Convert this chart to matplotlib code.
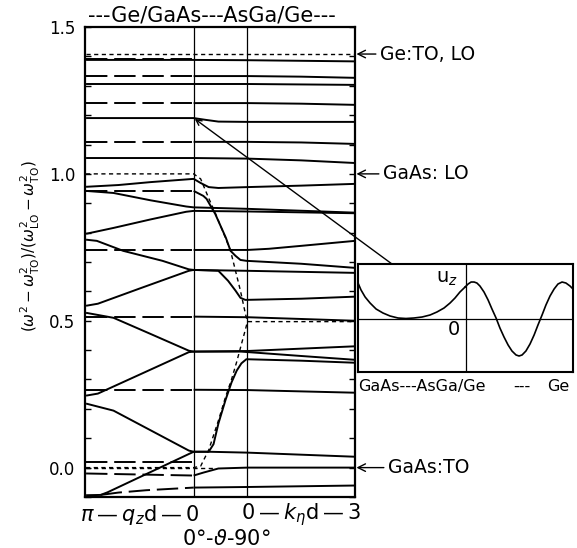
import matplotlib.pyplot as plt
from matplotlib.ticker import MultipleLocator

# stitched x axis: 0..1 is q_z d from pi to 0, 1..1.5 is theta 0..90 deg,
# 1.5..2.5 is k_eta d from 0 to 3
x_qz_end = 1.0
x_theta_end = 1.5
x_max = 2.5

# bulk reference levels (dotted)
ge_to_lo = 1.408
gaas_lo = 1.0
gaas_to = 0.0

# --- mode curves ---
m1_x = [0, 1.0, 1.5, 2.5]
m1_y = [1.388, 1.388, 1.387, 1.383]
m1d_x = [0, 1.0]
m1d_y = [1.392, 1.392]

m2d_x = [0, 1.0]
m2d_y = [1.333, 1.333]
m2_x = [1.0, 1.5, 2.0, 2.5]
m2_y = [1.333, 1.333, 1.331, 1.327]

m3_x = [0, 1.0, 1.5, 2.5]
m3_y = [1.306, 1.306, 1.306, 1.303]

m4d_x = [0, 1.0]
m4d_y = [1.241, 1.241]
m4_x = [1.0, 1.5, 2.0, 2.5]
m4_y = [1.241, 1.241, 1.239, 1.235]

m5_x = [0, 1.0, 1.11, 1.23, 1.5, 2.5]
m5_y = [1.190, 1.190, 1.184, 1.178, 1.177, 1.177]

m6d_x = [0, 1.0]
m6d_y = [1.109, 1.109]
m6_x = [1.0, 1.5, 2.0, 2.5]
m6_y = [1.109, 1.109, 1.107, 1.102]

m7_x = [0, 1.0, 1.5, 2.0, 2.5]
m7_y = [1.054, 1.054, 1.052, 1.046, 1.037]

m8_x = [0, 0.3, 0.6, 1.0, 1.065, 1.14, 1.23, 1.5, 2.0, 2.5]
m8_y = [0.956, 0.962, 0.972, 0.983, 0.969, 0.955, 0.952, 0.955, 0.960, 0.966]

m9d_x = [0, 1.0]
m9d_y = [0.942, 0.942]
m9_x = [1.0, 1.09, 1.12, 1.2, 1.3, 1.343, 1.389, 1.435, 1.49, 2.0, 2.5]
m9_y = [0.942, 0.925, 0.915, 0.864, 0.782, 0.738, 0.721, 0.707, 0.704, 0.694, 0.680]

m10_x = [0, 0.255, 0.6, 0.93, 1.0, 1.5, 2.5]
m10_y = [0.942, 0.935, 0.91, 0.889, 0.886, 0.881, 0.868]

m11_x = [0, 0.255, 0.6, 0.93, 1.0, 1.5, 2.5]
m11_y = [0.796, 0.816, 0.845, 0.871, 0.874, 0.872, 0.866]

m12d_x = [0, 1.0]
m12d_y = [0.741, 0.741]
m12_x = [1.0, 1.5, 1.7, 2.0, 2.5]
m12_y = [0.741, 0.741, 0.745, 0.755, 0.772]

m13_x = [0, 0.1, 0.345, 0.71, 0.955, 1.0, 1.5, 2.5]
m13_y = [0.776, 0.772, 0.738, 0.704, 0.675, 0.673, 0.670, 0.663]

m14_x = [0, 0.11, 0.5, 0.955, 1.0, 1.23, 1.32, 1.39, 1.435, 1.48, 2.0, 2.5]
m14_y = [0.551, 0.558, 0.61, 0.670, 0.673, 0.670, 0.636, 0.602, 0.578, 0.571, 0.575, 0.582]

m15d_x = [0, 1.0]
m15d_y = [0.514, 0.514]
m15_x = [1.0, 1.5, 2.5]
m15_y = [0.514, 0.512, 0.500]

m16_x = [0, 0.255, 0.6, 0.955, 1.0, 1.5, 2.5]
m16_y = [0.527, 0.510, 0.455, 0.398, 0.395, 0.397, 0.413]

m17_x = [0, 0.11, 0.5, 0.955, 1.0, 1.44, 2.0, 2.5]
m17_y = [0.245, 0.252, 0.317, 0.393, 0.395, 0.395, 0.380, 0.367]

m18d_x = [0, 1.0]
m18d_y = [0.265, 0.265]
m18_x = [1.0, 1.5, 2.5]
m18_y = [0.265, 0.264, 0.255]

m19_x = [0, 0.255, 0.6, 0.955, 1.0, 1.14, 1.5, 2.5]
m19_y = [0.218, 0.194, 0.127, 0.058, 0.054, 0.054, 0.051, 0.037]

m20_x = [0, 0.136, 0.2, 0.6, 1.0, 1.14, 1.185, 1.23, 1.296, 1.352, 1.40, 1.444, 1.49, 2.0, 2.5]
m20_y = [-0.094, -0.093, -0.084, -0.015, 0.054, 0.054, 0.08, 0.15, 0.23, 0.29, 0.33, 0.355, 0.369, 0.364, 0.357]

m21d_x = [0.136, 0.3, 0.56, 1.0]
m21d_y = [-0.093, -0.085, -0.077, -0.068]
m21_x = [1.0, 1.5, 2.5]
m21_y = [-0.068, -0.066, -0.061]

m22d_x = [0, 1.0]
m22d_y = [0.020, 0.020]

m23d_x = [0, 1.0]
m23d_y = [-0.020, -0.027]
m23_x = [1.0, 1.09, 1.23, 1.5, 2.5]
m23_y = [-0.027, -0.017, -0.003, 0.0, 0.0]

# dotted bulk-like branches
lo_branch_x = [0, 1.0, 1.065, 1.139, 1.204, 1.296, 1.343, 1.389, 1.435, 1.481, 1.5, 2.5]
lo_branch_y = [1.0, 1.0, 0.983, 0.918, 0.864, 0.782, 0.738, 0.670, 0.602, 0.524, 0.497, 0.497]
to_branch_x = [0, 1.0, 1.065, 1.14, 1.23, 1.296, 1.352, 1.40, 1.444, 1.481, 1.5]
to_branch_y = [0, 0, 0.005, 0.06, 0.16, 0.24, 0.30, 0.36, 0.42, 0.47, 0.497]
to_flat_x = [0, 1.2]
to_flat_y = [0, 0]

# inset: u_z displacement profile (GaAs half, then Ge half)
uz_gaas_x = [0.000, 0.014, 0.033, 0.056, 0.084, 0.116, 0.149, 0.186, 0.223, 0.260,
             0.298, 0.335, 0.367, 0.400, 0.428, 0.451, 0.474, 0.498]
uz_gaas_y = [0.72, 0.58, 0.44, 0.32, 0.20, 0.12, 0.06, 0.02, 0.01, 0.02,
             0.04, 0.08, 0.14, 0.22, 0.32, 0.42, 0.54, 0.64]
uz_ge_x = [0.498, 0.512, 0.526, 0.540, 0.553, 0.567, 0.586, 0.605, 0.623, 0.642,
           0.660, 0.679, 0.698, 0.716, 0.735, 0.749, 0.763, 0.781, 0.800, 0.819,
           0.837, 0.856, 0.874, 0.893, 0.912, 0.930, 0.949, 0.967, 0.986, 1.000]
uz_ge_y = [0.64, 0.70, 0.74, 0.74, 0.72, 0.66, 0.54, 0.38, 0.20, 0.02,
           -0.18, -0.36, -0.52, -0.64, -0.72, -0.74, -0.72, -0.64, -0.50, -0.32,
           -0.12, 0.08, 0.28, 0.46, 0.60, 0.70, 0.74, 0.72, 0.66, 0.60]

solid_curves = [(m1_x, m1_y), (m2_x, m2_y), (m3_x, m3_y), (m4_x, m4_y), (m5_x, m5_y),
                (m6_x, m6_y), (m7_x, m7_y), (m8_x, m8_y), (m9_x, m9_y), (m10_x, m10_y),
                (m11_x, m11_y), (m12_x, m12_y), (m13_x, m13_y), (m14_x, m14_y),
                (m15_x, m15_y), (m16_x, m16_y), (m17_x, m17_y), (m18_x, m18_y),
                (m19_x, m19_y), (m20_x, m20_y), (m21_x, m21_y), (m23_x, m23_y)]
dashed_curves = [(m1d_x, m1d_y), (m2d_x, m2d_y), (m4d_x, m4d_y), (m6d_x, m6d_y),
                 (m9d_x, m9d_y), (m12d_x, m12d_y), (m15d_x, m15d_y), (m18d_x, m18d_y),
                 (m21d_x, m21d_y), (m22d_x, m22d_y), (m23d_x, m23d_y)]
dotted_curves = [([0, x_max], [ge_to_lo, ge_to_lo]), (lo_branch_x, lo_branch_y),
                 (to_branch_x, to_branch_y), (to_flat_x, to_flat_y)]

LW = 1.4
FS = 13.5
TS = '\u2009'  # thin space

fig = plt.figure(figsize=(5.77, 5.48), dpi=100)
ax = fig.add_axes([0.1473, 0.0931, 0.468, 0.8576])

for xs, ys in solid_curves:
    ax.plot(xs, ys, color='black', lw=LW, solid_capstyle='butt')
for xs, ys in dashed_curves:
    ax.plot(xs, ys, color='black', lw=LW, dashes=(11, 3.5))
for xs, ys in dotted_curves:
    ax.plot(xs, ys, color='black', lw=1.0, dashes=(3, 2.5))

ax.axvline(x_qz_end, color='black', lw=0.9)
ax.axvline(x_theta_end, color='black', lw=0.9)

ax.set_xlim(-0.01, x_max)
ax.set_ylim(-0.1, 1.5)
ax.set_xticks([])
ax.set_yticks([0.0, 0.5, 1.0, 1.5])
ax.set_yticklabels(['0.0', '0.5', '1.0', '1.5'])
ax.yaxis.set_minor_locator(MultipleLocator(0.1))
ax.tick_params(axis='y', which='both', direction='in', left=True, right=True,
               length=4, width=1, labelsize=12, pad=7)
for sp in ax.spines.values():
    sp.set_linewidth(1.6)

# x axis captions under the three sections
xt = ax.get_xaxis_transform()
qz_caption = '$\\pi$' + TS + '—' + TS + '$q_z$d' + TS + '—' + TS + '0'
k_caption = '0' + TS + '—' + TS + '$k_\\eta$d' + TS + '—' + TS + '3'
ax.text(0.5, -0.038, qz_caption, transform=xt, ha='center', va='center', fontsize=15)
ax.text(2.0, -0.038, k_caption, transform=xt, ha='center', va='center', fontsize=15)
ax.text(1.3, -0.089, r'0°-$\vartheta$-90°', transform=xt, ha='center', va='center', fontsize=15)

fig.text(0.367, 0.972, '---Ge/GaAs---AsGa/Ge---', ha='center', va='center', fontsize=15)
fig.text(0.052, 0.551, r'$(\omega^2-\omega^2_{\rm TO})/(\omega^2_{\rm LO}-\omega^2_{\rm TO})$',
         rotation=90, ha='center', va='center', fontsize=11)

# right side level markers
for label, level, off in [('Ge:TO, LO', ge_to_lo, 25), ('GaAs: LO', gaas_lo, 28),
                          ('GaAs:TO', gaas_to, 33)]:
    ax.annotate(label, xy=(x_max, level), xytext=(off, 0), textcoords='offset pixels',
                ha='left', va='center', fontsize=FS, annotation_clip=False,
                arrowprops=dict(arrowstyle='->', lw=1.0, shrinkA=1, shrinkB=1))

# inset with the displacement pattern
ins = fig.add_axes([0.6205, 0.3212, 0.3726, 0.197])
ins.plot(uz_gaas_x, uz_gaas_y, color='black', lw=1.2)
ins.plot(uz_ge_x, uz_ge_y, color='black', lw=1.2)
ins.axvline(0.5, color='black', lw=0.9)
ins.axhline(0.0, color='black', lw=0.9)
ins.set_xlim(0, 1)
ins.set_ylim(-1.06, 1.1)
ins.set_xticks([])
ins.set_yticks([])
for sp in ins.spines.values():
    sp.set_linewidth(1.5)
ins.text(0.414, 0.82, r'u$_z$', ha='center', va='center', fontsize=14)
ins.text(0.447, -0.22, '0', ha='center', va='center', fontsize=14)
ins.text(0.0, -0.13, 'GaAs---AsGa/Ge', transform=ins.transAxes, ha='left', va='center', fontsize=11.5)
ins.text(0.76, -0.13, '---', transform=ins.transAxes, ha='center', va='center', fontsize=11.5)
ins.text(0.985, -0.13, 'Ge', transform=ins.transAxes, ha='right', va='center', fontsize=11.5)

ax.annotate('', xy=(x_qz_end, 1.19), xytext=(0.158, 1.0), textcoords=ins.transAxes,
            annotation_clip=False,
            arrowprops=dict(arrowstyle='->', lw=1.0, shrinkA=0, shrinkB=1))

fig.savefig('out.png', dpi=100)
